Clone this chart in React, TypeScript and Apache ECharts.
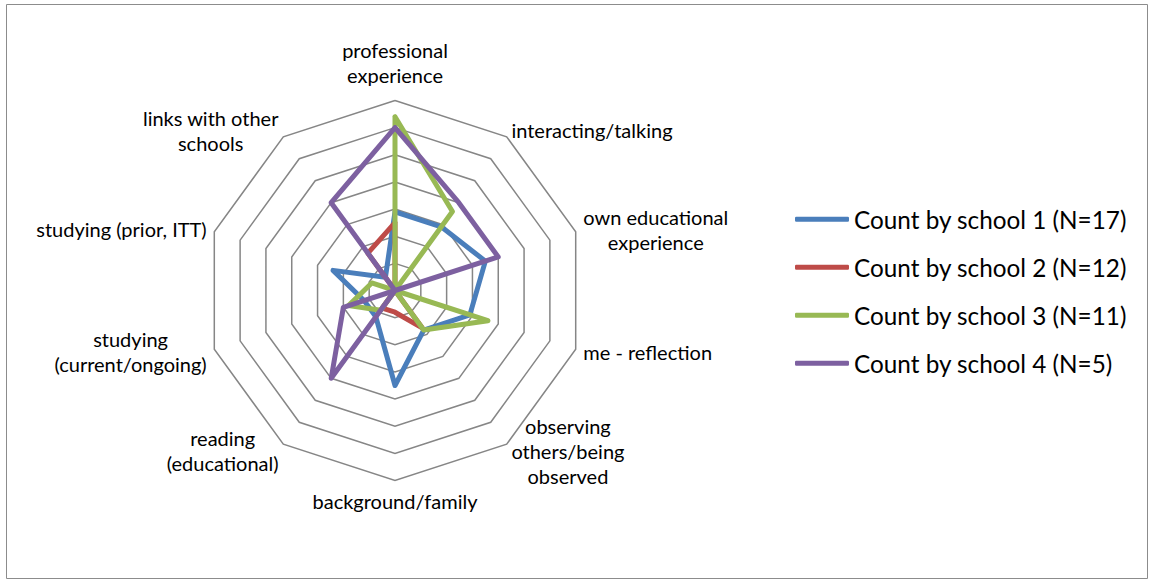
import React, { useEffect, useRef } from "react";
import * as echarts from "echarts";

// Axis categories in clockwise order starting at the top
const categories: string[] = [
  "professional\nexperience",
  "interacting/talking",
  "own educational\nexperience",
  "me - reflection",
  "observing\nothers/being\nobserved",
  "background/family",
  "reading\n(educational)",
  "studying\n(current/ongoing)",
  "studying (prior, ITT)",
  "links with other\nschools",
];

const seriesNames: string[] = [
  "Count by school 1 (N=17)",
  "Count by school 2 (N=12)",
  "Count by school 3 (N=11)",
  "Count by school 4 (N=5)",
];

// values in the same clockwise order as categories
const school1: number[] = [0.29, 0.29, 0.35, 0.29, 0.18, 0.35, 0.12, 0.12, 0.24, 0.06];
const school2: number[] = [0.25, 0, 0, 0, 0.17, 0.08, 0.08, 0, 0, 0.17];
const school3: number[] = [0.64, 0.36, 0, 0.36, 0.18, 0, 0.09, 0.18, 0.09, 0];
const school4: number[] = [0.6, 0.4, 0.4, 0, 0, 0, 0.4, 0.2, 0, 0.4];

const axisMax = 0.7;
const ringCount = 7;

const colors: string[] = ["#4A7EBB", "#BE4B48", "#98B954", "#7D60A0"];

const FONT = "Lato";

export default function App() {
  const ref = useRef<HTMLDivElement>(null);

  useEffect(() => {
    if (!ref.current) return;
    const chart = echarts.init(ref.current, undefined, { renderer: "svg" });

    // ECharts lays indicators counter-clockwise; reorder to get clockwise placement
    const n = categories.length;
    const order = [0, ...Array.from({ length: n - 1 }, (_, k) => n - 1 - k)];
    const reorder = (arr: number[]) => order.map((i) => arr[i]);

    const allValues = [school1, school2, school3, school4];

    chart.setOption({
      animation: false,
      backgroundColor: "#ffffff",
      graphic: [
        {
          type: "rect",
          shape: { x: 6.5, y: 4.5, width: 1141, height: 574 },
          style: { fill: "none", stroke: "#8C8C8C", lineWidth: 1 },
          silent: true,
        },
      ],
      legend: {
        orient: "vertical",
        left: 795,
        top: 207.3,
        padding: 0,
        itemWidth: 54,
        itemHeight: 5,
        itemGap: 24,
        icon: "roundRect",
        selectedMode: false,
        data: seriesNames,
        textStyle: {
          fontFamily: FONT,
          fontSize: 24.3,
          lineHeight: 24,
          color: "#000000",
        },
      },
      radar: {
        center: [395, 290.5],
        radius: 190,
        startAngle: 90,
        splitNumber: ringCount,
        shape: "polygon",
        nameGap: 8,
        indicator: order.map((i) => ({ name: categories[i], min: 0, max: axisMax })),
        axisName: {
          color: "#000000",
          fontFamily: FONT,
          fontSize: 20,
          lineHeight: 25,
          formatter: (name: string) => {
            const body = name
              .split("\n")
              .map((l) => `{c|${l}}`)
              .join("\n");
            // the top label sits a little higher above the outer ring
            return name === categories[0] ? body + "\n{s| }" : body;
          },
          rich: {
            c: {
              align: "center",
              fontFamily: FONT,
              fontSize: 20,
              lineHeight: 25,
              color: "#000000",
            },
            s: { fontSize: 1, lineHeight: 5 },
          },
        },
        axisLine: { show: false },
        axisTick: { show: false },
        axisLabel: { show: false },
        splitArea: { show: false },
        splitLine: { lineStyle: { color: "#868686", width: 1.5 } },
      },
      series: [
        {
          type: "radar",
          symbol: "none",
          emphasis: { disabled: true },
          data: allValues.map((vals, si) => ({
            name: seriesNames[si],
            value: reorder(vals),
            itemStyle: { color: colors[si] },
            lineStyle: { color: colors[si], width: 5, cap: "round", join: "round" },
          })),
        },
      ],
    });

    return () => chart.dispose();
  }, []);

  return (
    <div
      ref={ref}
      style={{ position: "fixed", left: 0, top: 0, width: 1150, height: 581, background: "#fff" }}
    />
  );
}
